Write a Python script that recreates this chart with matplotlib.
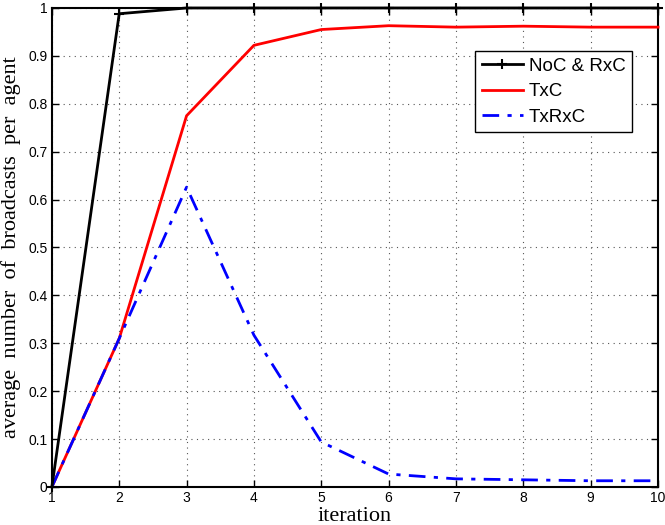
import matplotlib
matplotlib.use("Agg")
import matplotlib.pyplot as plt

iterations = [1, 2, 3, 4, 5, 6, 7, 8, 9, 10]
noc_rxc = [0, 0.988, 1.0, 1.0, 1.0, 1.0, 1.0, 1.0, 1.0, 1.0]
txc = [0, 0.31, 0.775, 0.922, 0.955, 0.963, 0.960, 0.962, 0.960, 0.960]
txrxc = [0, 0.31, 0.626, 0.317, 0.094, 0.027, 0.017, 0.015, 0.013, 0.013]
xticks = [1, 2, 3, 4, 5, 6, 7, 8, 9, 10]
yticks = [0, 0.1, 0.2, 0.3, 0.4, 0.5, 0.6, 0.7, 0.8, 0.9, 1]

fig = plt.figure(figsize=(6.65, 5.25), dpi=100)
ax = fig.add_axes([0.078, 0.0724, 0.9115, 0.9124])

ax.plot(iterations, noc_rxc, color='black', lw=2, marker='+', ms=7, mew=1.5,
        label='NoC & RxC', clip_on=False, zorder=4)
ax.plot(iterations, txc, color='red', lw=2, label='TxC', clip_on=False, zorder=3)
ax.plot(iterations, txrxc, color='blue', lw=2, linestyle=(0, (6, 3, 1.5, 3)),
        label='TxRxC', clip_on=False, zorder=3)

ax.set_xlim(1, 10)
ax.set_ylim(0, 1)
ax.set_xticks(xticks)
ax.set_yticks(yticks)
ax.set_yticklabels(['0', '0.1', '0.2', '0.3', '0.4', '0.5', '0.6', '0.7', '0.8', '0.9', '1'])
ax.tick_params(direction='in', top=True, right=True, labelsize=10, length=5, width=1, pad=3)
for lab in ax.get_xticklabels() + ax.get_yticklabels():
    lab.set_fontfamily('Liberation Sans')
ax.grid(True, linestyle=(0, (1, 4)), color='#555555', lw=0.8)
for s in ax.spines.values():
    s.set_linewidth(1.5)

ax.set_xlabel('iteration', fontfamily='Liberation Serif', fontsize=16, labelpad=1)
ax.set_ylabel('average  number  of  broadcasts  per  agent', fontfamily='Liberation Serif',
              fontsize=16, labelpad=5)

leg = ax.legend(loc='upper right', bbox_to_anchor=(0.957, 0.910), borderaxespad=0,
                fancybox=False, framealpha=1,
                edgecolor='black', prop={'family': 'Liberation Sans', 'size': 13.5},
                handlelength=2.2, borderpad=0.35, labelspacing=0.45, handletextpad=0.3)
leg.get_frame().set_linewidth(1.0)

fig.savefig('out.png', dpi=100)
